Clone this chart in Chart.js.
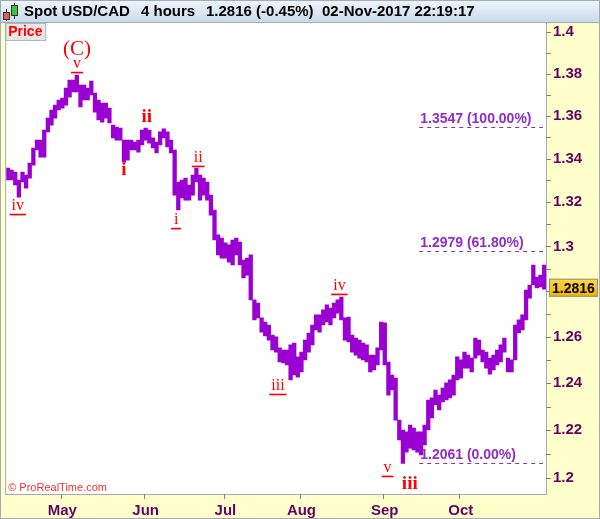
<!DOCTYPE html>
<html>
<head>
<meta charset="utf-8">
<title>Spot USD/CAD 4 hours</title>
<script src="https://cdn.jsdelivr.net/npm/chart.js@4.4.0/dist/chart.umd.min.js"></script>
<style>
  html, body { margin: 0; padding: 0; background: #fff; }
</style>
</head>
<body>
<canvas id="chart" width="600" height="519"></canvas>
<script>
// trading days shown (weekdays only)
const firstDay = '2017-04-10'
const lastDay = '2017-11-02'
const monthTicks = ['May', 'Jun', 'Jul', 'Aug', 'Sep', 'Oct']

// daily high / low
const dayHigh = [
  1.3357, 1.3348, 1.3339, 1.3302, 1.3339, 1.3325, 1.3380, 1.3450, 1.3487, 1.3487,
  1.3534, 1.3590, 1.3628, 1.3651, 1.3675, 1.3684, 1.3732, 1.3770, 1.3770, 1.3794,
  1.3746, 1.3746, 1.3732, 1.3765, 1.3708, 1.3675, 1.3661, 1.3661, 1.3637, 1.3557,
  1.3548, 1.3543, 1.3487, 1.3487, 1.3487, 1.3478, 1.3487, 1.3534, 1.3543, 1.3534,
  1.3497, 1.3478, 1.3525, 1.3539, 1.3525, 1.3487, 1.3441, 1.3293, 1.3302, 1.3311,
  1.3279, 1.3325, 1.3357, 1.3325, 1.3311, 1.3293, 1.3233, 1.3165, 1.3052, 1.3038,
  1.3016, 1.3007, 1.3029, 1.3038, 1.3020, 1.2939, 1.2948, 1.2962, 1.2762, 1.2748,
  1.2683, 1.2665, 1.2652, 1.2608, 1.2600, 1.2552, 1.2543, 1.2543, 1.2565, 1.2573,
  1.2513, 1.2534, 1.2586, 1.2617, 1.2652, 1.2696, 1.2696, 1.2718, 1.2740, 1.2726,
  1.2748, 1.2762, 1.2775, 1.2683, 1.2687, 1.2608, 1.2595, 1.2586, 1.2573, 1.2565,
  1.2521, 1.2521, 1.2552, 1.2665, 1.2661, 1.2491, 1.2435, 1.2422, 1.2243, 1.2201,
  1.2193, 1.2222, 1.2209, 1.2193, 1.2193, 1.2222, 1.2328, 1.2337, 1.2371, 1.2349,
  1.2379, 1.2401, 1.2414, 1.2435, 1.2513, 1.2500, 1.2534, 1.2521, 1.2508, 1.2595,
  1.2586, 1.2543, 1.2534, 1.2508, 1.2521, 1.2543, 1.2565, 1.2595, 1.2508, 1.2500,
  1.2652, 1.2674, 1.2696, 1.2806, 1.2828, 1.2917, 1.2863, 1.2872, 1.2917
]
const dayLow = [
  1.3302, 1.3302, 1.3279, 1.3224, 1.3293, 1.3265, 1.3311, 1.3371, 1.3441, 1.3408,
  1.3408, 1.3525, 1.3557, 1.3590, 1.3628, 1.3637, 1.3651, 1.3689, 1.3713, 1.3713,
  1.3642, 1.3675, 1.3675, 1.3699, 1.3618, 1.3581, 1.3571, 1.3590, 1.3567, 1.3497,
  1.3487, 1.3487, 1.3385, 1.3394, 1.3441, 1.3441, 1.3431, 1.3464, 1.3487, 1.3473,
  1.3450, 1.3427, 1.3464, 1.3497, 1.3455, 1.3427, 1.3233, 1.3165, 1.3220, 1.3210,
  1.3210, 1.3233, 1.3293, 1.3210, 1.3233, 1.3210, 1.3142, 1.3029, 1.2962, 1.2948,
  1.2948, 1.2930, 1.2917, 1.2962, 1.2917, 1.2859, 1.2872, 1.2762, 1.2674, 1.2683,
  1.2621, 1.2604, 1.2586, 1.2543, 1.2534, 1.2491, 1.2487, 1.2478, 1.2414, 1.2435,
  1.2426, 1.2448, 1.2500, 1.2534, 1.2565, 1.2630, 1.2621, 1.2652, 1.2665, 1.2652,
  1.2683, 1.2704, 1.2674, 1.2586, 1.2578, 1.2534, 1.2521, 1.2508, 1.2500, 1.2491,
  1.2448, 1.2457, 1.2478, 1.2543, 1.2478, 1.2349, 1.2371, 1.2243, 1.2159, 1.2061,
  1.2108, 1.2125, 1.2117, 1.2108, 1.2096, 1.2138, 1.2201, 1.2252, 1.2307, 1.2286,
  1.2320, 1.2328, 1.2337, 1.2349, 1.2414, 1.2422, 1.2465, 1.2465, 1.2448, 1.2508,
  1.2521, 1.2491, 1.2465, 1.2439, 1.2457, 1.2478, 1.2491, 1.2534, 1.2448, 1.2448,
  1.2500, 1.2617, 1.2630, 1.2674, 1.2770, 1.2828, 1.2815, 1.2819, 1.2810
]

const lastPrice = 1.2816
const priceTicks = [1.20, 1.21, 1.22, 1.23, 1.24, 1.25, 1.26, 1.27, 1.28, 1.29, 1.30,
  1.31, 1.32, 1.33, 1.34, 1.35, 1.36, 1.37, 1.38, 1.39, 1.40]

// fibonacci retracement levels
const fibPrice = [1.3547, 1.2979, 1.2061]
const fibPct = ['100.00%', '61.80%', '0.00%']
const fibFromDay = 113.5

// elliott wave counts
const waveText = ['(C)', 'v', 'ii', 'i', 'ii', 'i', 'iv', 'iii', 'iv', 'v', 'iii']
const waveDay = [19.05, 19.05, 38.3, 32.0, 52.5, 46.4, 2.7, 74.5, 91.5, 104.75, 110.9]
const wavePrice = [1.3914, 1.3846, 1.3595, 1.3348, 1.3404, 1.3119, 1.3183, 1.2388, 1.2824, 1.2042, 1.1975]
const waveDegree = ['primary', 'minor', 'intermediate', 'intermediate', 'minor', 'minor',
  'minor', 'minor', 'minor', 'minor', 'intermediate']

const priceColor = '#9A00D2'
const fibColor = '#8E2DC8'
const axisColor = '#660066'
const monthNames = ['Jan', 'Feb', 'Mar', 'Apr', 'May', 'Jun', 'Jul', 'Aug', 'Sep', 'Oct', 'Nov', 'Dec']

// build weekday categories
const days = []
const d = new Date(firstDay + 'T12:00:00')
const end = new Date(lastDay + 'T12:00:00')
while (d <= end) {
  if (d.getDay() !== 0 && d.getDay() !== 6) days.push(new Date(d))
  d.setDate(d.getDate() + 1)
}
const labels = days.map(x => x.toISOString().slice(0, 10))
const monthStart = days.map((x, i) => {
  if (i === 0 || x.getMonth() === days[i - 1].getMonth()) return ''
  const m = monthNames[x.getMonth()]
  return monthTicks.includes(m) ? m : ''
})

const waveFont = {
  primary: '21px "Liberation Serif", "Times New Roman", serif',
  intermediate: 'bold 19px "Liberation Serif", "Times New Roman", serif',
  minor: '16px "Liberation Serif", "Times New Roman", serif'
}

const chrome = {
  id: 'chrome',
  beforeDraw (chart) {
    const { ctx, chartArea: a, width, height } = chart
    ctx.save()
    ctx.fillStyle = '#FFFFCC'
    ctx.fillRect(0, 0, width, height)
    ctx.fillStyle = '#fff'
    ctx.fillRect(a.left, a.top, a.right - a.left, a.bottom - a.top)

    // header
    const g = ctx.createLinearGradient(0, 0, 0, 22)
    g.addColorStop(0, '#F0F5FB')
    g.addColorStop(1, '#C9DBEC')
    ctx.fillStyle = g
    ctx.fillRect(0, 0, width, 22)
    ctx.strokeStyle = '#9FAAB6'
    ctx.lineWidth = 1
    ctx.beginPath()
    ctx.moveTo(0, 22.5)
    ctx.lineTo(width, 22.5)
    ctx.stroke()

    // little candle icon
    ctx.strokeStyle = '#333'
    ctx.beginPath()
    ctx.moveTo(6.5, 9); ctx.lineTo(6.5, 21)
    ctx.moveTo(14.5, 3); ctx.lineTo(14.5, 19)
    ctx.stroke()
    ctx.fillStyle = '#E85A5A'
    ctx.fillRect(3.5, 12.5, 6, 7)
    ctx.strokeRect(3.5, 12.5, 6, 7)
    ctx.fillStyle = '#3CC43C'
    ctx.fillRect(11.5, 5.5, 6, 10)
    ctx.strokeRect(11.5, 5.5, 6, 10)

    ctx.fillStyle = '#000'
    ctx.font = 'bold 15px "Liberation Sans", Arial, sans-serif'
    ctx.textBaseline = 'middle'
    ctx.textAlign = 'left'
    ctx.fillText('Spot USD/CAD', 24, 12)
    ctx.fillText('4 hours', 141, 12)
    ctx.fillText('1.2816 (-0.45%)', 206, 12)
    ctx.fillText('02-Nov-2017 22:19:17', 322, 12)
    ctx.restore()
  },
  afterDatasetsDraw (chart) {
    const { ctx, chartArea: a, scales: { x, y } } = chart
    ctx.save()

    // fibonacci levels
    const x0 = x.getPixelForValue(fibFromDay)
    ctx.strokeStyle = fibColor
    ctx.fillStyle = fibColor
    ctx.lineWidth = 1.2
    ctx.setLineDash([4, 4])
    ctx.font = 'bold 14px "Liberation Sans", Arial, sans-serif'
    ctx.textAlign = 'left'
    ctx.textBaseline = 'bottom'
    fibPrice.forEach((p, i) => {
      const py = Math.round(y.getPixelForValue(p)) + 0.5
      ctx.beginPath()
      ctx.moveTo(x0, py)
      ctx.lineTo(a.right - 3, py)
      ctx.stroke()
      ctx.fillText(p.toFixed(4) + ' (' + fibPct[i] + ')', x0 + 1, py - 1)
    })
    ctx.setLineDash([])

    // wave labels
    ctx.fillStyle = '#FF0000'
    ctx.strokeStyle = '#FF0000'
    ctx.textAlign = 'center'
    ctx.textBaseline = 'middle'
    waveText.forEach((t, i) => {
      const px = x.getPixelForValue(waveDay[i])
      const py = y.getPixelForValue(wavePrice[i])
      ctx.font = waveFont[waveDegree[i]]
      ctx.fillText(t, px, py)
      if (waveDegree[i] === 'minor') {
        const w = Math.max(ctx.measureText(t).width + 4, 10)
        ctx.lineWidth = 1.6
        ctx.beginPath()
        ctx.moveTo(px - w / 2, py + 8.5)
        ctx.lineTo(px + w / 2, py + 8.5)
        ctx.stroke()
      }
    })

    // price tag + copyright
    ctx.fillStyle = '#E6E6E6'
    ctx.fillRect(a.left, a.top, 40, 17)
    ctx.strokeStyle = '#B5B5B5'
    ctx.lineWidth = 1
    ctx.strokeRect(a.left - 0.5, a.top + 0.5, 40, 17)
    ctx.fillStyle = '#FF0000'
    ctx.font = 'bold 14px "Liberation Sans", Arial, sans-serif'
    ctx.textAlign = 'left'
    ctx.fillText('Price', a.left + 2, a.top + 9)
    ctx.font = '11px "Liberation Sans", Arial, sans-serif'
    ctx.fillStyle = '#F03030'
    ctx.fillText('\u00A9 ProRealTime.com', a.left + 2, a.bottom - 6)
    ctx.restore()
  },
  afterDraw (chart) {
    const { ctx, chartArea: a, scales: { x, y } } = chart
    ctx.save()
    ctx.strokeStyle = '#A3ACB5'
    ctx.lineWidth = 1
    ctx.strokeRect(a.left - 0.5, a.top - 0.5, a.right - a.left + 1, a.bottom - a.top + 1)
    ctx.strokeRect(0.5, 0.5, chart.width - 1, chart.height - 1)

    // axis tick marks
    ctx.strokeStyle = '#8A7A9A'
    ctx.beginPath()
    priceTicks.forEach(p => {
      const py = Math.round(y.getPixelForValue(p)) + 0.5
      ctx.moveTo(a.right, py)
      ctx.lineTo(a.right + 5, py)
    })
    monthStart.forEach((m, i) => {
      if (!m) return
      const px = Math.round(x.getPixelForValue(i) - x.width / labels.length / 2) + 0.5
      ctx.moveTo(px, a.bottom)
      ctx.lineTo(px, a.bottom + 5)
    })
    ctx.stroke()

    // last price box
    const py = y.getPixelForValue(lastPrice)
    const g = ctx.createLinearGradient(0, py - 9, 0, py + 9)
    g.addColorStop(0, '#FFD84A')
    g.addColorStop(1, '#F2B200')
    ctx.fillStyle = g
    ctx.fillRect(a.right + 3, py - 9, 49, 18)
    ctx.strokeStyle = '#8C8C8C'
    ctx.strokeRect(a.right + 3.5, py - 8.5, 48, 17)
    ctx.fillStyle = '#000'
    ctx.font = 'bold 14px "Liberation Sans", Arial, sans-serif'
    ctx.textAlign = 'left'
    ctx.textBaseline = 'middle'
    ctx.fillText(lastPrice.toFixed(4), a.right + 6, py + 1)
    ctx.restore()
  }
}

const ctx = document.getElementById('chart').getContext('2d')
const myChart = new Chart(ctx, {
  type: 'bar',
  data: {
    labels: labels,
    datasets: [{
      label: 'USD/CAD',
      data: dayLow.map((lo, i) => [lo, dayHigh[i]]),
      backgroundColor: priceColor,
      borderWidth: 0,
      barPercentage: 1,
      categoryPercentage: 1
    }]
  },
  options: {
    responsive: false,
    animation: false,
    layout: { padding: { top: 23, left: 1, right: 0, bottom: 0 } },
    plugins: {
      legend: { display: false },
      tooltip: { enabled: false }
    },
    scales: {
      x: {
        grid: { display: false, drawTicks: false },
        border: { display: false },
        ticks: {
          autoSkip: false,
          maxRotation: 0,
          padding: 8,
          color: axisColor,
          font: { family: '"Liberation Sans", Arial, sans-serif', weight: 'bold', size: 15 },
          callback: (v, i) => monthStart[i]
        },
        afterFit: s => { s.height = 25 }
      },
      y: {
        type: 'logarithmic',
        position: 'right',
        min: 1.1934,
        max: 1.4044,
        grid: { display: false, drawTicks: false },
        border: { display: false },
        afterBuildTicks: s => { s.ticks = priceTicks.map(v => ({ value: v })) },
        ticks: {
          padding: 7,
          color: axisColor,
          font: { family: '"Liberation Sans", Arial, sans-serif', weight: 'bold', size: 15 },
          callback: v => {
            const n = Math.round(v * 100)
            return n % 2 === 0 ? String(n / 100) : ''
          }
        },
        afterFit: s => { s.width = 54 }
      }
    }
  },
  plugins: [chrome]
})
</script>
</body>
</html>
